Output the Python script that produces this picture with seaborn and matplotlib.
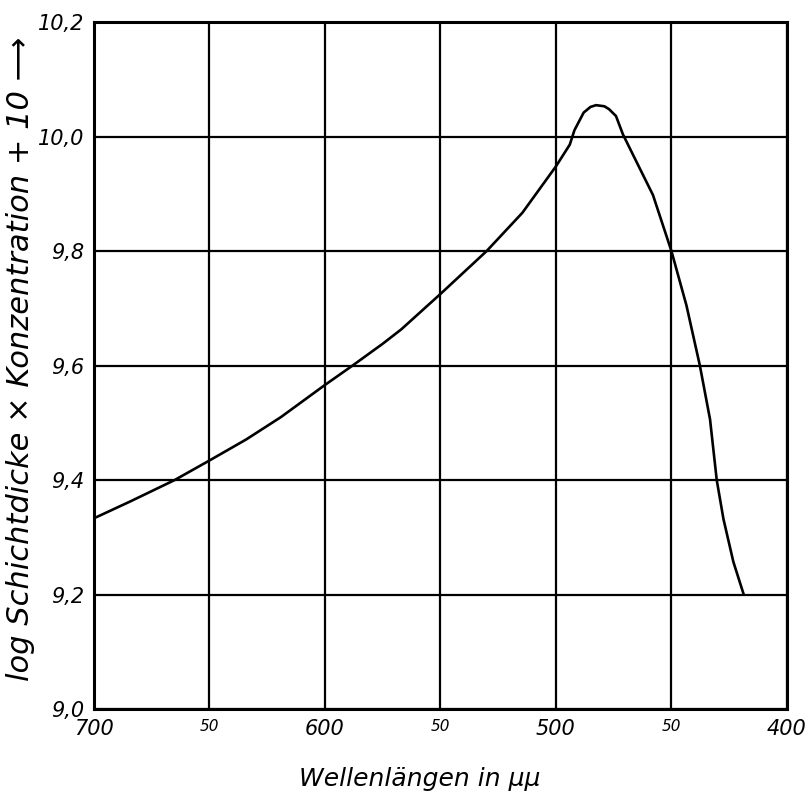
import matplotlib
matplotlib.use('Agg')
import matplotlib.pyplot as plt
import seaborn as sns
import pandas as pd

# Kurve (Wellenlänge in mμ, log-Wert)
wellenlaenge = [700, 684, 665, 650, 634, 619, 600, 588, 575, 567, 550, 530,
                514.5, 500, 494, 492, 488, 485, 482.6, 479, 477, 474, 471,
                465, 458, 450, 443.5, 437.7, 433.3, 430.4, 427.5, 423.2, 418.8]
log_wert = [9.333, 9.363, 9.400, 9.434, 9.471, 9.510, 9.566, 9.600, 9.638,
            9.663, 9.725, 9.800, 9.867, 9.948, 9.986, 10.011, 10.042, 10.052,
            10.055, 10.053, 10.048, 10.036, 10.004, 9.955, 9.898, 9.800,
            9.705, 9.600, 9.506, 9.400, 9.332, 9.257, 9.201]

x_ticks = [700, 650, 600, 550, 500, 450, 400]
x_labels = ['700', '50', '600', '50', '500', '50', '400']
y_ticks = [9.0, 9.2, 9.4, 9.6, 9.8, 10.0, 10.2]
y_labels = ['9,0', '9,2', '9,4', '9,6', '9,8', '10,0', '10,2']

df = pd.DataFrame({'wl': wellenlaenge, 'val': log_wert})

sns.set_theme(style='white')
plt.rcParams['font.family'] = ['DejaVu Sans']
plt.rcParams['font.style'] = 'italic'
plt.rcParams['text.color'] = 'black'

fig = plt.figure(figsize=(8.08, 8.09), dpi=100)
ax = fig.add_axes([0.116, 0.1236, 0.858, 0.849])

sns.lineplot(data=df, x='wl', y='val', color='black', linewidth=1.9,
             sort=False, estimator=None, ax=ax)

ax.set_xlim(700, 400)
ax.set_ylim(9.0, 10.2)
ax.set_xticks(x_ticks)
ax.set_xticklabels(x_labels, fontsize=15, style='italic')
ax.set_yticks(y_ticks)
ax.set_yticklabels(y_labels, fontsize=15, style='italic')
for lbl in ax.get_xticklabels():
    if lbl.get_text() == '50':
        lbl.set_fontsize(11)
ax.tick_params(length=0, pad=7, colors='black')
ax.grid(True, color='black', linewidth=1.6)
for sp in ax.spines.values():
    sp.set_visible(True)
    sp.set_color('black')
    sp.set_linewidth(2.2)

ax.set_xlabel('')
ax.set_ylabel('')
ax.text(0.47, -0.102, 'Wellenlängen in μμ', transform=ax.transAxes,
        ha='center', va='center', fontsize=18, style='italic', color='black')
ax.text(-0.106, 0.51, 'log Schichtdicke × Konzentration + 10 ⟶',
        transform=ax.transAxes, rotation=90, ha='center', va='center',
        fontsize=22, style='italic', color='black')

plt.savefig('out.png', dpi=100)
plt.close()
